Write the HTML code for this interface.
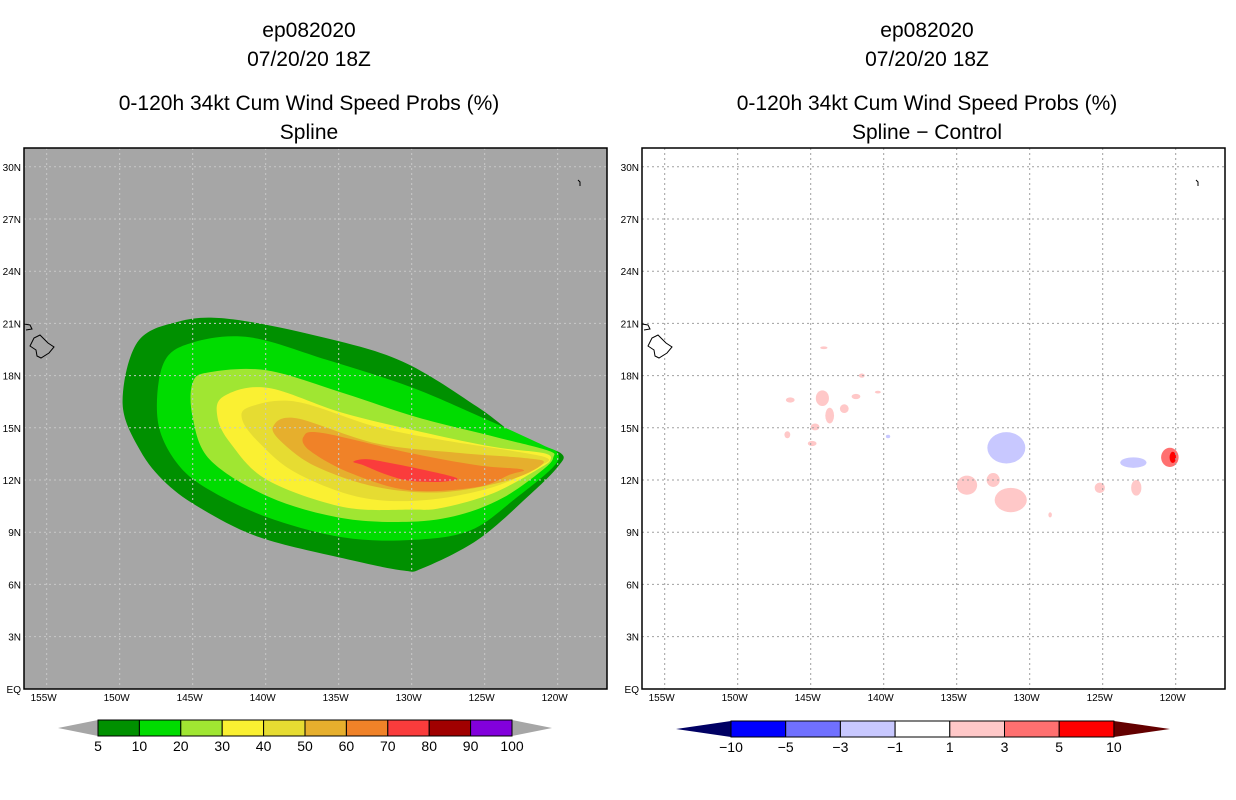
<!DOCTYPE html>
<html><head><meta charset="utf-8"><style>
body{margin:0;background:#fff;}
svg{display:block;font-family:"Liberation Sans",sans-serif;}
</style></head><body>
<svg id="chart" width="1236" height="800" viewBox="0 0 1236 800">
<g font-size="21" text-anchor="middle" fill="#000">
<text x="309" y="37">ep082020</text><text x="309" y="66">07/20/20 18Z</text>
<text x="309" y="110">0-120h 34kt Cum Wind Speed Probs (%)</text><text x="309" y="139">Spline</text></g>
<g font-size="21" text-anchor="middle" fill="#000">
<text x="927" y="37">ep082020</text><text x="927" y="66">07/20/20 18Z</text>
<text x="927" y="110">0-120h 34kt Cum Wind Speed Probs (%)</text><text x="927" y="139">Spline − Control</text></g>
<rect x="24" y="148" width="583" height="541" fill="#a6a6a6"/>
<rect x="642" y="148" width="583" height="541" fill="#fff"/>
<g id="leftFill"></g><g id="rightFill"></g><g id="grids"></g><g id="land"></g>
<rect x="24" y="148" width="583" height="541" fill="none" stroke="#000" stroke-width="1.5"/>
<rect x="642" y="148" width="583" height="541" fill="none" stroke="#000" stroke-width="1.5"/>
<g id="axes" font-size="10"></g><g id="cbars"></g>
</svg>
<script>
const NS='http://www.w3.org/2000/svg';
const lonTicks=[155,150,145,140,135,130,125,120];
const latTicks=[0,3,6,9,12,15,18,21,24,27,30];
const probLevels=['5','10','20','30','40','50','60','70','80','90','100'];
const probColors=['#009000','#00dc00','#a0e632','#faf032','#e6dc32','#e6af2d','#f08228','#fa3c3c','#a00000','#8200dc'];
const diffLevels=['−10','−5','−3','−1','1','3','5','10'];
const diffColors=['#0000ff','#7070ff','#c8c8ff','#ffffff','#ffc8c8','#ff7070','#ff0000'];
// contour polygons [lonW, lat]
const c5=[[146,21.1],[142.4,21.25],[136.1,20.2],[130.6,18.8],[125.5,16.2],[122.4,14.3],[119.8,13.55],[120,12.75],[122.1,11],[125.5,8.55],[129.2,6.95],[130.6,6.8],[134.7,7.5],[140.4,8.7],[144.3,10.3],[146.8,11.8],[148.6,13.7],[149.8,16.4],[148.8,19.9]];
const c10=[[145,19.9],[141.1,20.2],[135.8,18.9],[130.1,17.35],[124.8,15.45],[121,14],[120,13.55],[120.3,12.75],[122.8,11],[126,9.1],[130.1,8.55],[134.7,8.7],[139.7,9.8],[143.8,11.4],[146.1,13],[147.4,15.45],[147,18.7]];
const c20=[[143.8,18.2],[139.9,18.3],[134.7,17],[129.6,15.6],[124.4,14.5],[120.7,13.7],[120.3,13.3],[121,12.6],[123.7,11],[126.7,10],[130.1,9.6],[134.7,9.8],[139.7,11],[143.8,13.15],[145,15.6],[145,17.6]];
const c30=[[142.9,16.8],[139.9,17.3],[134.7,15.85],[129,14.7],[124.4,13.9],[121,13.55],[120.5,13.15],[121.4,12.6],[124.4,11.25],[127.9,10.4],[130.1,10.3],[134.7,10.45],[139.9,12],[142.4,14.1],[143.3,15.6]];
const c40=[[141.1,16.2],[137.9,16.5],[132.4,15.05],[127.9,14.3],[123.3,13.7],[120.7,13.25],[121.4,12.75],[124.4,11.6],[129,10.85],[133.5,11],[137.9,12.4],[140.4,14.1],[141.6,15.45]];
const c50=[[139.5,15.05],[137.9,15.55],[132.4,14.1],[126.7,13.55],[122.1,13.25],[121,12.95],[123.3,12],[127.9,11.3],[132.4,11.6],[136.5,12.75],[138.8,14.1]];
const c60=[[137.4,14.5],[136.1,14.7],[130.1,13.55],[125.5,12.85],[122.4,12.6],[123.3,12.3],[125.5,11.6],[130.1,11.4],[134.2,12.4],[137,13.7]];
const c70=[[134,13.05],[133.1,13.2],[131.3,12.95],[129,12.55],[126.9,12.1],[127.9,11.9],[130.1,11.95],[131.7,12.3],[133.3,12.85]];
const contours=[c5,c10,c20,c30,c40,c50,c60,c70];
// difference blobs: lonW, lat, radius lon(deg), radius lat(deg), color index
const blobLon=[144.2,143.7,144.7,142.7,141.9,141.5,146.4,144.9,146.6,144.1,140.4,139.7,131.6,134.3,132.5,131.3,128.6,122.9,125.2,122.7,120.4,120.2];
const blobLat=[16.7,15.7,15.05,16.1,16.8,18.0,16.6,14.1,14.6,19.6,17.05,14.5,13.85,11.7,12.0,10.85,10.0,13.0,11.55,11.55,13.3,13.3];
const blobRx=[0.45,0.3,0.3,0.3,0.3,0.2,0.3,0.3,0.2,0.25,0.2,0.15,1.3,0.7,0.45,1.1,0.12,0.9,0.35,0.35,0.6,0.22];
const blobRy=[0.45,0.45,0.2,0.25,0.15,0.12,0.15,0.15,0.2,0.08,0.08,0.1,0.9,0.55,0.4,0.7,0.15,0.3,0.3,0.45,0.55,0.32];
const blobCol=[4,4,4,4,4,4,4,4,4,4,4,2,2,4,4,4,4,2,4,4,5,6];
function X(lonW,off){return off+338.7+(135-lonW)*14.6;}
function Y(lat){return 480-(lat-12)*17.4;}
function el(tag,attrs,parent){const e=document.createElementNS(NS,tag);for(const k in attrs)e.setAttribute(k,attrs[k]);parent.appendChild(e);return e;}
function smooth(pts){const n=pts.length;let d='M'+pts[0][0].toFixed(1)+','+pts[0][1].toFixed(1);
 for(let i=0;i<n;i++){const p0=pts[(i-1+n)%n],p1=pts[i],p2=pts[(i+1)%n],p3=pts[(i+2)%n];
  const c1=[p1[0]+(p2[0]-p0[0])/6,p1[1]+(p2[1]-p0[1])/6],c2=[p2[0]-(p3[0]-p1[0])/6,p2[1]-(p3[1]-p1[1])/6];
  d+=' C'+c1.map(v=>v.toFixed(1)).join(',')+' '+c2.map(v=>v.toFixed(1)).join(',')+' '+p2[0].toFixed(1)+','+p2[1].toFixed(1);}
 return d+'Z';}
const lf=document.getElementById('leftFill');
contours.forEach((c,i)=>{
 const p=el('path',{d:smooth(c.map(q=>[X(q[0],0),Y(q[1])])),fill:probColors[i]},lf);
 
 
});
const rf=document.getElementById('rightFill');
blobLon.forEach((lo,i)=>{
 const e=el('ellipse',{cx:X(lo,618),cy:Y(blobLat[i]),rx:blobRx[i]*14.6,ry:blobRy[i]*17.4,fill:diffColors[blobCol[i]]},rf);
 
 
});
const g=document.getElementById('grids'),ax=document.getElementById('axes');
[0,618].forEach(off=>{
 const gc=off?'#a0a0a0':'#c8c8c8';
 lonTicks.forEach(l=>{const x=X(l,off);
  const ln=el('line',{x1:x,x2:x,y1:148,y2:689,stroke:gc,'stroke-dasharray':'2,3','stroke-width':1},g);
  
  
  const t=el('text',{x:x-3,y:701,'text-anchor':'middle'},ax);t.textContent=l+'W';
  
  
 });
 latTicks.forEach(l=>{const y=Y(l);
  if(l>0&&l<31){const ln=el('line',{x1:24+off,x2:607+off,y1:y,y2:y,stroke:gc,'stroke-dasharray':'2,3','stroke-width':1},g);
  
  }
  const t=el('text',{x:21+off,y:y+4,'text-anchor':'end'},ax);t.textContent=l===0?'EQ':l+'N';
  
  
 });
 const ld=document.getElementById('land');
 const h=el('path',{d:`M${30+off},346 l4,-8 l6,-3 l4,4 l4,4 l6,4 l-5,6 l-8,5 l-4,-2 l-1,-6 z M${24+off},324 l6,1 l2,4 l-6,1 M${578+off},180 l2,2 l0,4`,fill:off?'#fff':'#a6a6a6',stroke:'#000','stroke-width':1},ld);
 
 
});
const cb=document.getElementById('cbars');
(function(){const x0=98,w=41.4,y0=720,h=16;
 const lt=el('polygon',{points:`58,${y0+h/2} ${x0},${y0} ${x0},${y0+h}`,fill:'#a6a6a6'},cb);
 
 const rt=el('polygon',{points:`552,${y0+h/2} ${x0+10*w},${y0} ${x0+10*w},${y0+h}`,fill:'#a6a6a6'},cb);
 
 probColors.forEach((c,i)=>{const r=el('rect',{x:x0+i*w,y:y0,width:w,height:h,fill:c,stroke:'#000','stroke-width':1},cb);
  });
 probLevels.forEach((s,i)=>{const t=el('text',{x:x0+i*w,y:y0+h+15,'text-anchor':'middle','font-size':14},cb);t.textContent=s;
  });
})();
(function(){const x0=731,w=54.7,y0=721,h=16;
 const lt=el('polygon',{points:`676,${y0+h/2} ${x0},${y0} ${x0},${y0+h}`,fill:'#000064'},cb);
 
 const rt=el('polygon',{points:`1170,${y0+h/2} ${x0+7*w},${y0} ${x0+7*w},${y0+h}`,fill:'#640000'},cb);
 
 diffColors.forEach((c,i)=>{const r=el('rect',{x:x0+i*w,y:y0,width:w,height:h,fill:c,stroke:'#000','stroke-width':1},cb);
  });
 diffLevels.forEach((s,i)=>{const t=el('text',{x:x0+i*w,y:y0+h+15,'text-anchor':'middle','font-size':14},cb);t.textContent=s;
  });
})();
</script>
</body></html>
